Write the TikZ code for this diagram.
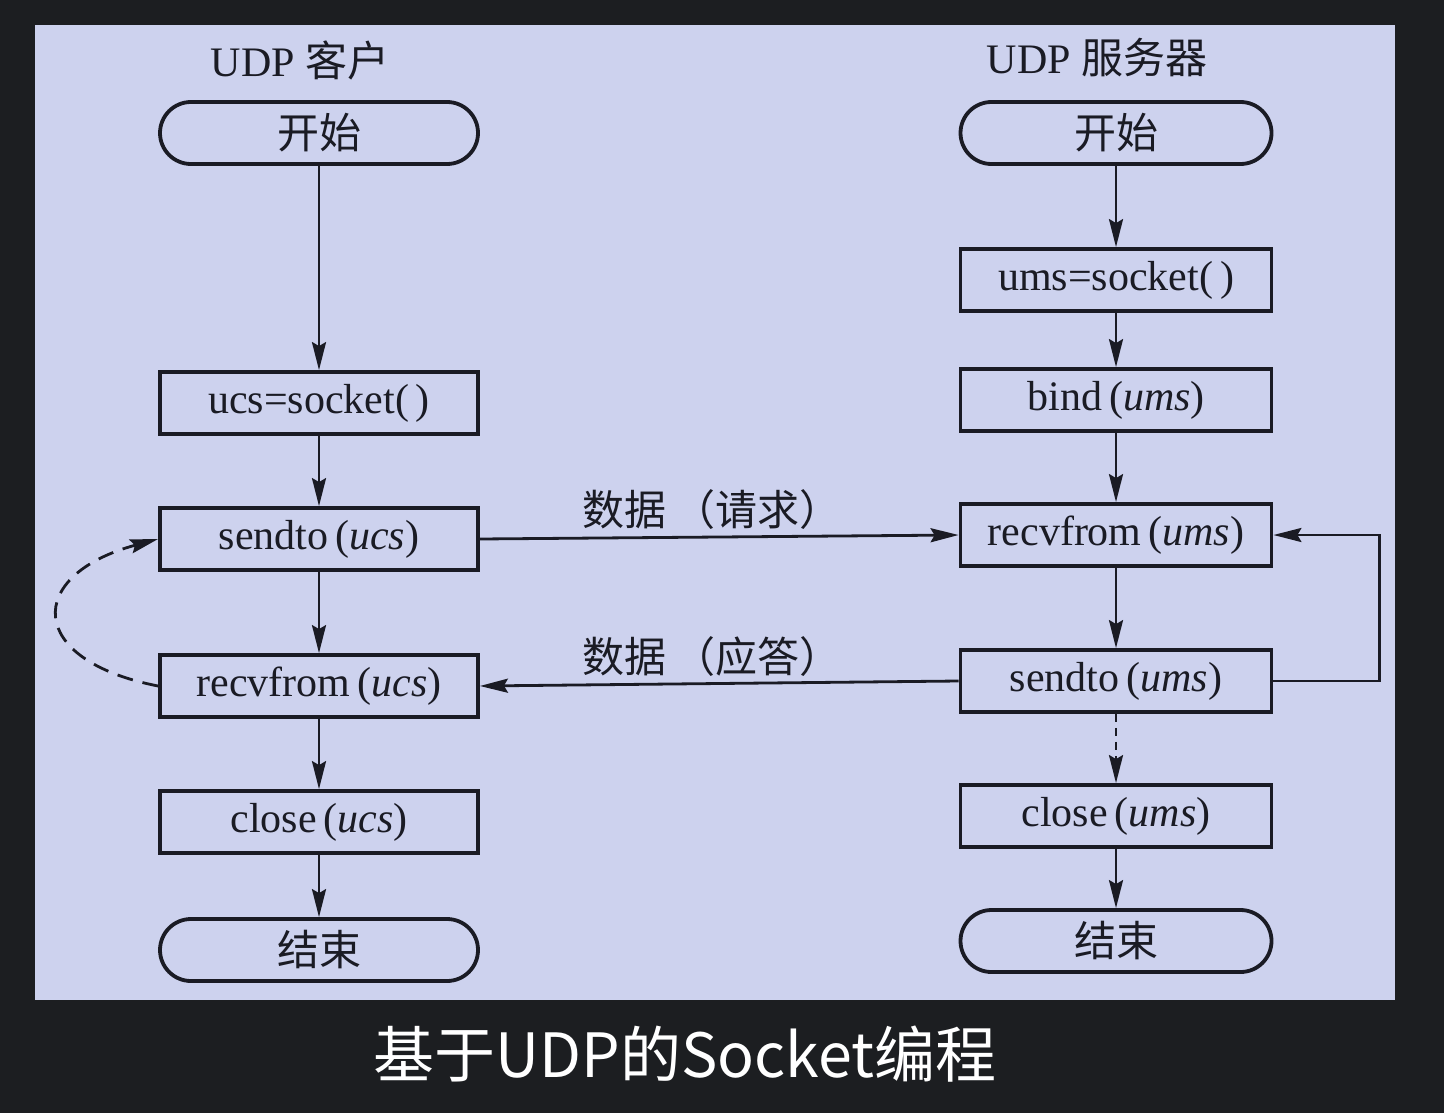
\documentclass[tikz,border=0pt]{standalone}
\usepackage{fontspec}
\setmainfont{Liberation Serif}
\newfontfamily\cjk{Noto Sans CJK SC}
\usetikzlibrary{arrows.meta}
\definecolor{panelbg}{HTML}{CDD2EE}
\definecolor{screenbg}{HTML}{1C1E21}
\definecolor{ink}{HTML}{1A1B24}

\tikzset{
  procbox/.style={draw=ink, line width=1.9pt, minimum height=31pt, inner sep=0pt,
    text=ink, font=\fontsize{21}{25}\selectfont},
  termbox/.style={procbox, rounded corners=15.5pt},
  flow/.style={draw=ink, line width=1.4pt, -{Stealth[length=14pt,width=7pt,inset=2pt]}},
  msglabel/.style={text=ink, font=\cjk\fontsize{21}{25}\selectfont},
}

\begin{document}
\begin{tikzpicture}[x=0.5pt,y=-0.5pt]
  % screen and slide
  \fill[screenbg] (0,0) rectangle (1444,1113);
  \fill[panelbg] (35,25) rectangle (1395,1000);
  \useasboundingbox (0,0) rectangle (1444,1113);

  % client side
  \node[text=ink, font=\fontsize{21}{25}\selectfont] (cTitle) at (300,60) {UDP {\cjk 客户}};
  \node[termbox, minimum width=159pt] (cStart) at (319,133) {\cjk 开始};
  \node[procbox, minimum width=159pt] (cSock) at (319,403) {ucs=socket(\,)};
  \node[procbox, minimum width=159pt] (cSend) at (319,539) {sendto\,(\textit{ucs})};
  \node[procbox, minimum width=159pt] (cRecv) at (319,686) {recvfrom\,(\textit{ucs})};
  \node[procbox, minimum width=159pt] (cClose) at (319,822) {close\,(\textit{ucs})};
  \node[termbox, minimum width=159pt] (cEnd) at (319,950) {\cjk 结束};

  % server side
  \node[text=ink, font=\fontsize{21}{25}\selectfont] (sTitle) at (1097,58) {UDP {\cjk 服务器}};
  \node[termbox, minimum width=155.5pt] (sStart) at (1116,133) {\cjk 开始};
  \node[procbox, minimum width=155.5pt] (sSock) at (1116,280) {ums=socket(\,)};
  \node[procbox, minimum width=155.5pt] (sBind) at (1116,400) {bind\,(\textit{ums})};
  \node[procbox, minimum width=155.5pt] (sRecv) at (1116,535) {recvfrom\,(\textit{ums})};
  \node[procbox, minimum width=155.5pt] (sSend) at (1116,681) {sendto\,(\textit{ums})};
  \node[procbox, minimum width=155.5pt] (sClose) at (1116,816) {close\,(\textit{ums})};
  \node[termbox, minimum width=155.5pt] (sEnd) at (1116,941) {\cjk 结束};

  % client flow
  \draw[flow] (cStart) -- (cSock);
  \draw[flow] (cSock) -- (cSend);
  \draw[flow] (cSend) -- (cRecv);
  \draw[flow] (cRecv) -- (cClose);
  \draw[flow] (cClose) -- (cEnd);
  \draw[flow, dash pattern=on 8pt off 5pt] (cRecv.west) .. controls (25,660) and (25,575) .. (cSend.west);

  % server flow
  \draw[flow] (sStart) -- (sSock);
  \draw[flow] (sSock) -- (sBind);
  \draw[flow] (sBind) -- (sRecv);
  \draw[flow] (sRecv) -- (sSend);
  \draw[flow, dash pattern=on 4pt off 3pt] (sSend) -- (sClose);
  \draw[flow] (sClose) -- (sEnd);
  \draw[flow] (sSend.east) -- ++(106,0) |- (sRecv.east);

  % messages
  \draw[flow] (cSend.east) -- (sRecv.west);
  \draw[flow] (sSend.west) -- (cRecv.east);
  \node[msglabel] (reqLabel) at (712,510) {数据\,（请求）};
  \node[msglabel] (repLabel) at (712,657) {数据\,（应答）};

  % caption
  \node[text=white, font=\cjk\fontsize{30.5}{36}\selectfont] (caption) at (685,1054) {基于UDP的Socket编程};
\end{tikzpicture}
\end{document}
